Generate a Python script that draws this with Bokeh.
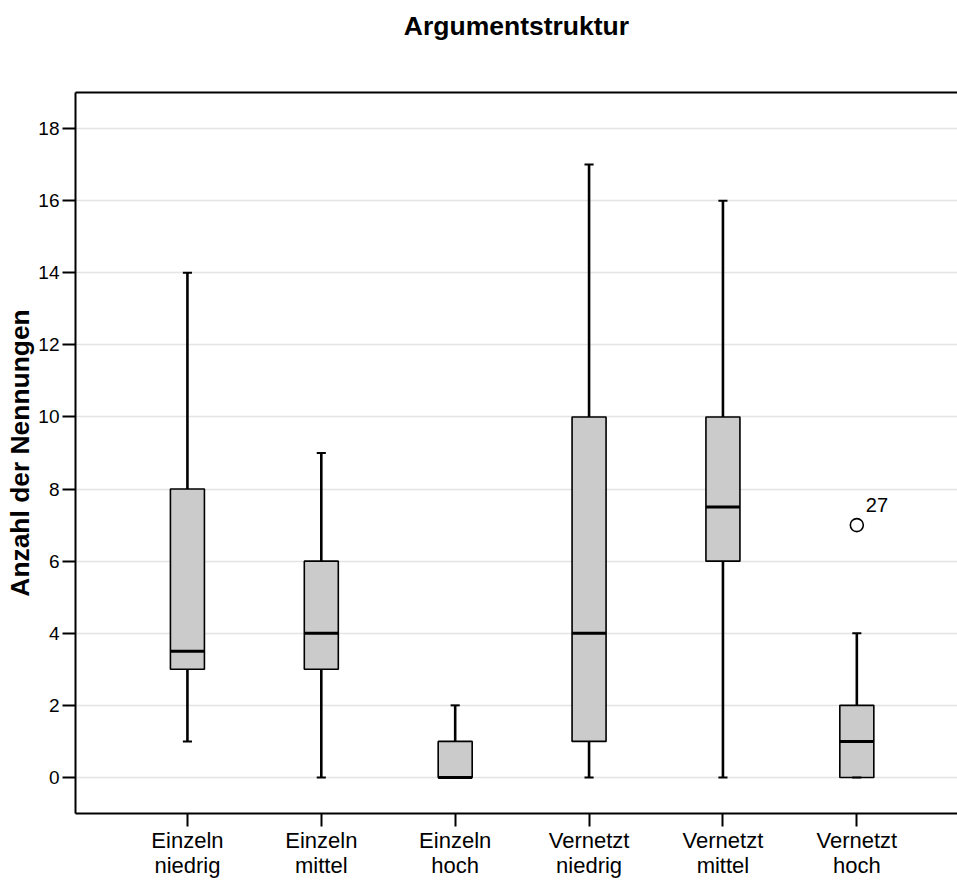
from bokeh.plotting import figure
from bokeh.models import FixedTicker, LabelSet, ColumnDataSource, Range1d, LinearAxis
from bokeh.core.properties import value
from bokeh.embed import file_html
from bokeh.resources import INLINE

# ---- data ----
title_text = "Argumentstruktur"
categories = ["Einzeln\nniedrig", "Einzeln\nmittel", "Einzeln\nhoch",
              "Vernetzt\nniedrig", "Vernetzt\nmittel", "Vernetzt\nhoch"]
positions = [1, 2, 3, 4, 5, 6]
whisker_low = [1, 0, 0, 0, 0, 0]
q1 = [3, 3, 0, 1, 6, 0]
median = [3.5, 4, 0, 4, 7.5, 1]
q3 = [8, 6, 1, 10, 10, 2]
whisker_high = [14, 9, 2, 17, 16, 4]
outlier_pos = [6]
outlier_val = [7]
outlier_label = ["27"]
y_ticks = [0, 2, 4, 6, 8, 10, 12, 14, 16, 18]

FONT = "Liberation Sans"
BOX_W = 0.254
CAP_HALF = 0.034

p = figure(width=957, height=880,
           x_range=Range1d(0.164, 6.752), y_range=Range1d(-1, 19),
           output_backend="svg", toolbar_location=None,
           min_border_left=75, min_border_right=0,
           min_border_top=92, min_border_bottom=67)

p.outline_line_color = None
p.background_fill_color = "white"
p.border_fill_color = "white"
p.title.visible = False

bottom_axis = p.below[0]
left_axis = p.left[0]

# top frame border; its axis label carries the chart title
top_axis = LinearAxis(ticker=FixedTicker(ticks=[]), major_tick_out=0, major_tick_in=0,
                      axis_line_width=2, axis_line_color="black",
                      minor_tick_line_color=None, major_label_standoff=0,
                      axis_label=title_text, axis_label_standoff=52,
                      axis_label_text_font=FONT, axis_label_text_font_size="26.5px",
                      axis_label_text_font_style="bold", axis_label_text_color="black")
p.add_layout(top_axis, "above")

# grid
p.xgrid.visible = False
p.ygrid.ticker = FixedTicker(ticks=y_ticks)
p.ygrid.grid_line_color = "#e4e4e4"
p.ygrid.grid_line_width = 1.5

# y axis
left_axis.ticker = FixedTicker(ticks=y_ticks)
left_axis.axis_label = "Anzahl der Nennungen"
left_axis.axis_label_text_font = FONT
left_axis.axis_label_text_font_size = "26.4px"
left_axis.axis_label_text_font_style = "bold"
left_axis.axis_label_text_color = "black"
left_axis.axis_label_standoff = 0
left_axis.major_label_text_font = FONT
left_axis.major_label_text_font_size = "19px"
left_axis.major_label_text_color = "black"
left_axis.major_label_standoff = 3

# x axis with two-line category labels
bottom_axis.ticker = FixedTicker(ticks=positions)
bottom_axis.major_label_overrides = {pos: cat for pos, cat in zip(positions, categories)}
bottom_axis.major_label_text_font = FONT
bottom_axis.major_label_text_font_size = "22px"
bottom_axis.major_label_text_color = "black"
bottom_axis.major_label_text_line_height = 1.0
bottom_axis.major_label_standoff = 1

for ax in (bottom_axis, left_axis):
    ax.axis_line_width = 2
    ax.axis_line_color = "black"
    ax.major_tick_out = 13
    ax.major_tick_in = 0
    ax.major_tick_line_width = 2
    ax.major_tick_line_color = "black"
    ax.minor_tick_line_color = None

# whiskers
p.segment(x0=positions, x1=positions, y0=q3, y1=whisker_high, line_color="black", line_width=2.6)
p.segment(x0=positions, x1=positions, y0=q1, y1=whisker_low, line_color="black", line_width=2.6)

# boxes
p.vbar(x=positions, width=BOX_W, bottom=q1, top=q3,
       fill_color="#cbcbcb", line_color="black", line_width=1.6)

# medians
p.segment(x0=[x - BOX_W / 2 for x in positions], x1=[x + BOX_W / 2 for x in positions],
          y0=median, y1=median, line_color="black", line_width=3)

# caps
p.segment(x0=[x - CAP_HALF for x in positions], x1=[x + CAP_HALF for x in positions],
          y0=whisker_high, y1=whisker_high, line_color="black", line_width=2)
p.segment(x0=[x - CAP_HALF for x in positions], x1=[x + CAP_HALF for x in positions],
          y0=whisker_low, y1=whisker_low, line_color="black", line_width=2)

# outlier
p.scatter(x=outlier_pos, y=outlier_val, marker="circle", size=13,
          fill_color="white", line_color="black", line_width=1.6)
out_src = ColumnDataSource(dict(x=outlier_pos, y=outlier_val, text=outlier_label))
p.add_layout(LabelSet(x="x", y="y", text="text", source=out_src,
                      x_offset=9, y_offset=13,
                      text_font=value(FONT), text_font_size="20px", text_color="black",
                      text_align="left", text_baseline="alphabetic"))

open("out.html", "w").write(file_html(p, INLINE))
